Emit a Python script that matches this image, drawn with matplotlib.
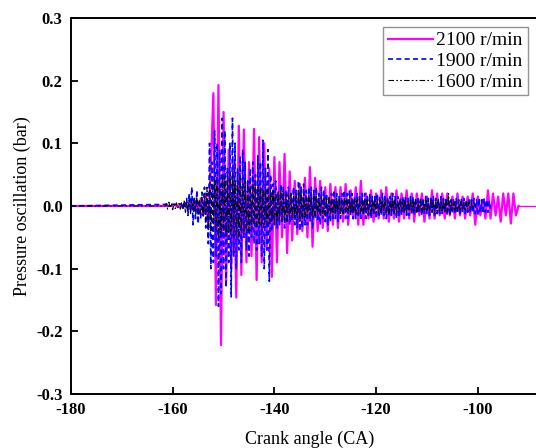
import numpy as np
import matplotlib
matplotlib.use("Agg")
import matplotlib.pyplot as plt

# ---------------- data ----------------
flat_start = -180.0          # signals are zero from here until the burst

step_2100 = 0.5
start_2100 = -160.0
p_2100 = [0, 0.002, -0.002, 0.003, -0.003, 0.002, -0.004, 0.005, -0.006, 0.008,
          -0.01, 0.012, -0.015, 0.02, -0.03, 0.06, 0.18, -0.158, 0.193, -0.222,
          0.15, -0.12, 0.09, -0.10, 0.07, -0.146, 0.128, -0.11, 0.122, -0.09,
          0.07, -0.08, 0.123, -0.118, 0.11, -0.09, 0.10, -0.07, 0.06, -0.113,
          0.078, -0.09, 0.07, -0.05, 0.083, -0.075, 0.055, -0.055, 0.04, -0.045,
          0.035, -0.04, 0.045, -0.05, 0.062, -0.065, 0.045, -0.04, 0.04, -0.035,
          0.03, -0.04, 0.035, -0.03, 0.03, -0.035, 0.03, -0.025, 0.035, -0.03,
          0.025, -0.02, 0.03, -0.03, 0.04, -0.03, 0.02, -0.02, 0.025, -0.025,
          0.02, -0.02, 0.025, -0.02, 0.03, -0.025, 0.02, -0.02, 0.025, -0.025,
          0.02, -0.02, 0.025, -0.02, 0.02, -0.025, 0.02, -0.015, 0.02, -0.025,
          0.015, -0.02, 0.025, -0.02, 0.02, -0.015, 0.02, -0.02, 0.02, -0.015,
          0.015, -0.02, 0.02, -0.015, 0.015, -0.02, 0.015, -0.015, 0.02, -0.03,
          0.015, -0.015, 0.01, -0.02, 0.025, -0.02, 0.02, -0.015, 0.015, -0.025,
          0.02, -0.015, 0.02, -0.028, 0.02, -0.015, 0.0]

step_1900 = 0.25
start_1900 = -158.25
p_1900 = [0.003, -0.005, 0.008, -0.004, 0.012, -0.015, 0.02, -0.01, 0.03, -0.03, 0.015,
          -0.02, 0.025, -0.028, 0.01, -0.02, 0.022, -0.015, 0.03, -0.035, 0.02,
          -0.06, 0.1, -0.1, 0.07, -0.09, 0.12, -0.08, 0.1, -0.16, 0.09,
          -0.14, 0.14, -0.1, 0.12, -0.13, 0.06, -0.09, 0.1, -0.145, 0.14,
          -0.08, 0.1, -0.1, 0.06, -0.07, 0.08, -0.09, 0.09, -0.05, 0.07,
          -0.07, 0.04, -0.08, 0.06, -0.05, 0.07, -0.06, 0.05, -0.07, 0.08,
          -0.06, 0.07, -0.08, 0.105, -0.1, 0.06, -0.07, 0.09, -0.12, 0.05,
          -0.04, 0.035, -0.03, 0.04, -0.035, 0.02, -0.03, 0.035, -0.025, 0.03,
          -0.035, 0.025, -0.02, 0.03, -0.03, 0.02, -0.025, 0.03, -0.03, 0.025,
          -0.035, 0.04, -0.04, 0.03, -0.035, 0.035, -0.03, 0.025, -0.03, 0.03,
          -0.025, 0.03, -0.035, 0.025, -0.02, 0.03, -0.025, 0.02, -0.03, 0.03,
          -0.02, 0.025, -0.025, 0.02, -0.03, 0.015, -0.025, 0.02, -0.02, 0.025,
          -0.02, 0.02, -0.025, 0.015, -0.02, 0.02, -0.015, 0.025, -0.02, 0.02,
          -0.02, 0.025, -0.015, 0.02, -0.02, 0.015, -0.02, 0.02, -0.015, 0.015,
          -0.02, 0.02, -0.015, 0.02, -0.02, 0.015, -0.015, 0.02, -0.02, 0.015,
          -0.015, 0.015, -0.02, 0.02, -0.015, 0.015, -0.015, 0.02, -0.015, 0.015,
          -0.02, 0.015, -0.015, 0.015, -0.015, 0.02, -0.015, 0.015, -0.02, 0.015,
          -0.015, 0.012, -0.015, 0.015, -0.012, 0.015, -0.015, 0.012, -0.015, 0.015,
          -0.012, 0.015, -0.015, 0.012, -0.012, 0.015, -0.012, 0.012, -0.015, 0.012,
          -0.012, 0.015, -0.012, 0.012, -0.015, 0.012, -0.01, 0.015, -0.015, 0.012,
          -0.012, 0.01, -0.012, 0.015, -0.012, 0.012, -0.01, 0.012, -0.015, 0.012,
          -0.012, 0.01, -0.012, 0.012, -0.01, 0.012, -0.012, 0.01, -0.012, 0.012,
          -0.01, 0.012, -0.012, 0.01, -0.01, 0.012, -0.012, 0.01, -0.01, 0.012,
          -0.012, 0.01, -0.015, 0.012, -0.01, 0.01, -0.012, 0.012, -0.01, 0.01,
          -0.01, 0.008, -0.005, 0.0]

step_1600 = 0.25
start_1600 = -161.5
p_1600 = [0.0, 0.004, -0.005, 0.006, -0.003, 0.004, -0.006, 0.003, -0.004, 0.005,
          -0.003, 0.004, -0.005, 0.006, -0.004, 0.008, -0.01, 0.006, -0.008, 0.01,
          -0.012, 0.01, -0.008, 0.012, -0.01, 0.012, -0.015, 0.01, -0.012, 0.015,
          -0.018, 0.02, -0.025, 0.03, -0.035, 0.03, -0.04, 0.035, -0.03, 0.045,
          -0.04, 0.04, -0.05, 0.035, -0.045, 0.05, -0.04, 0.045, -0.05, 0.04,
          -0.045, 0.05, -0.04, 0.055, -0.05, 0.04, -0.045, 0.04, -0.05, 0.045,
          -0.04, 0.035, -0.045, 0.04, -0.035, 0.035, -0.04, 0.03, -0.035, 0.035,
          -0.03, 0.035, -0.035, 0.03, -0.03, 0.03, -0.035, 0.025, -0.03, 0.03,
          -0.025, 0.03, -0.03, 0.025, -0.025, 0.025, -0.03, 0.02, -0.025, 0.025,
          -0.02, 0.025, -0.025, 0.02, -0.02, 0.02, -0.025, 0.02, -0.02, 0.02,
          -0.02, 0.015, -0.02, 0.02, -0.018, 0.025, -0.025, 0.02, -0.02, 0.018,
          -0.018, 0.015, -0.015, 0.018, -0.015, 0.015, -0.018, 0.015, -0.015, 0.015,
          -0.015, 0.012, -0.015, 0.015, -0.012, 0.012, -0.015, 0.012, -0.012, 0.015,
          -0.012, 0.012, -0.015, 0.012, -0.012, 0.012, -0.01, 0.012, -0.012, 0.01,
          -0.012, 0.012, -0.01, 0.012, -0.012, 0.01, -0.012, 0.012, -0.01, 0.012,
          -0.012, 0.01, -0.012, 0.012, -0.01, 0.012, -0.012, 0.01, -0.01, 0.012,
          -0.01, 0.01, -0.012, 0.01, -0.01, 0.012, -0.01, 0.01, -0.012, 0.01,
          -0.01, 0.012, -0.01, 0.01, -0.01, 0.01, -0.012, 0.01, -0.01, 0.012,
          -0.01, 0.01, -0.01, 0.008, -0.01, 0.01, -0.008, 0.01, -0.01, 0.008,
          -0.01, 0.01, -0.008, 0.01, -0.01, 0.008, -0.008, 0.01, -0.01, 0.008,
          -0.008, 0.01, -0.01, 0.008, -0.008, 0.01, -0.008, 0.008, -0.01, 0.01,
          -0.008, 0.008, -0.01, 0.008, -0.008, 0.01, -0.008, 0.008, -0.008, 0.01,
          -0.008, 0.01, -0.01, 0.02, -0.015, 0.01, -0.008, 0.008, -0.008, 0.008,
          -0.008, 0.006, -0.008, 0.008, -0.006, 0.006, -0.008, 0.006, -0.006, 0.006,
          -0.006, 0.006, -0.005, 0.004, 0.0]

labels = ["2100 r/min", "1900 r/min", "1600 r/min"]
x_ticks = [-180, -160, -140, -120, -100]
y_ticks = [-0.3, -0.2, -0.1, 0.0, 0.1, 0.2, 0.3]


def series(start, step, vals):
    vals = np.asarray(vals, dtype=float)
    x = np.concatenate([[flat_start], start + step * np.arange(len(vals))])
    y = np.concatenate([[0.0], vals])
    return x, y


plt.rcParams['font.family'] = ['Liberation Serif', 'DejaVu Serif']

fig = plt.figure(figsize=(5.36, 4.48), dpi=100)
fig.patch.set_facecolor('white')
ax = fig.add_axes([71 / 536, 1 - 394 / 448, 478 / 536, (394 - 18) / 448])

x1, y1 = series(start_2100, step_2100, p_2100)
x2, y2 = series(start_1900, step_1900, p_1900)
x3, y3 = series(start_1600, step_1600, p_1600)

l1, = ax.plot(x1, y1, color='#ff00ff', lw=1.6, ls='-', label=labels[0])
l2, = ax.plot(x2, y2, color='#0000ff', lw=1.2, ls=(0, (3, 2)), label=labels[1])
l3, = ax.plot(x3, y3, color='black', lw=0.8, ls=(0, (5, 2, 1.5, 2, 1.5, 2)), label=labels[2])
# the flat tail continuing to the axis edge
ax.plot([x1[-1], -86], [0, 0], color='#ff00ff', lw=1.0)

ax.set_xlim(-180, -86)
ax.set_ylim(-0.3, 0.3)
ax.set_xticks(x_ticks)
ax.set_yticks(y_ticks)
ax.set_xticklabels([str(v) for v in x_ticks])
ax.set_yticklabels([f"{v:.1f}" for v in y_ticks])
ax.tick_params(direction='in', length=5, width=1.3, labelsize=12, pad=6)
for lab in ax.get_xticklabels() + ax.get_yticklabels():
    lab.set_fontweight('bold')
for sp in ax.spines.values():
    sp.set_linewidth(1.4)

ax.set_xlabel("Crank angle (CA)", fontsize=13, labelpad=9)
ax.set_ylabel("Pressure oscillation (bar)", fontsize=13, labelpad=4)

leg = ax.legend(handles=[l1, l2, l3], loc='upper left',
                bbox_to_anchor=(383 / 536, 1 - 27 / 448), bbox_transform=fig.transFigure,
                borderaxespad=0, fontsize=14, handlelength=2.3, handletextpad=0.2,
                labelspacing=0.15, borderpad=0.25, frameon=True, fancybox=False)
leg.get_frame().set_edgecolor('#777777')
leg.get_frame().set_linewidth(1.0)

fig.savefig("out.png", dpi=100, facecolor='white')
